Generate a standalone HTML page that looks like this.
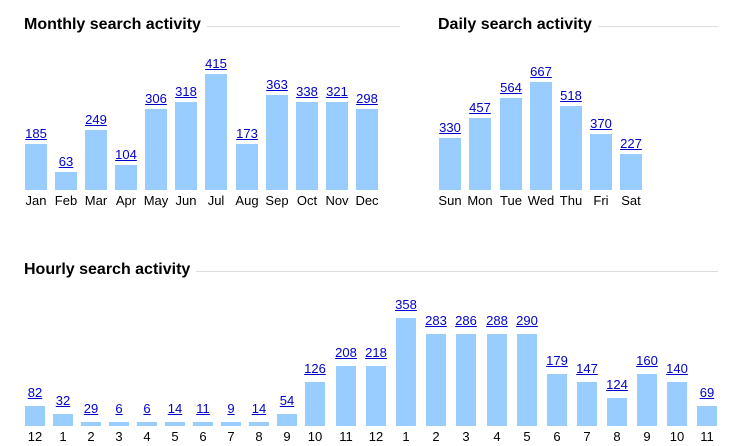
<!DOCTYPE html>
<html><head><meta charset="utf-8"><style>
body{margin:0;width:739px;height:446px;background:#fff;position:relative;overflow:hidden;font-family:"Liberation Sans",Arial,sans-serif;}
.t{position:absolute;font-weight:bold;font-size:16px;color:#000;background:#fff;padding-right:6px;line-height:18px}
.ln{position:absolute;height:1px;background:#ddd}
.b{position:absolute;background:#9cf}
.v,.x{position:absolute;font-size:13px;line-height:14px;transform:translateX(-50%);white-space:nowrap}
.v{color:#00c;text-decoration:underline}
.x{color:#000}
</style></head><body>
<div class="ln" style="left:24px;top:26px;width:376px"></div>
<div class="t" style="left:24px;top:16px">Monthly search activity</div>
<div class="ln" style="left:438px;top:26px;width:280px"></div>
<div class="t" style="left:438px;top:16px">Daily search activity</div>
<div class="ln" style="left:24px;top:271px;width:694px"></div>
<div class="t" style="left:24px;top:261px">Hourly search activity</div>

<div class="b" style="left:25px;top:144px;width:22px;height:46px"></div><div class="v" style="left:36px;top:127px">185</div><div class="x" style="left:36px;top:194px">Jan</div>
<div class="b" style="left:55px;top:172px;width:22px;height:18px"></div><div class="v" style="left:66px;top:155px">63</div><div class="x" style="left:66px;top:194px">Feb</div>
<div class="b" style="left:85px;top:130px;width:22px;height:60px"></div><div class="v" style="left:96px;top:113px">249</div><div class="x" style="left:96px;top:194px">Mar</div>
<div class="b" style="left:115px;top:165px;width:22px;height:25px"></div><div class="v" style="left:126px;top:148px">104</div><div class="x" style="left:126px;top:194px">Apr</div>
<div class="b" style="left:145px;top:109px;width:22px;height:81px"></div><div class="v" style="left:156px;top:92px">306</div><div class="x" style="left:156px;top:194px">May</div>
<div class="b" style="left:175px;top:102px;width:22px;height:88px"></div><div class="v" style="left:186px;top:85px">318</div><div class="x" style="left:186px;top:194px">Jun</div>
<div class="b" style="left:205px;top:74px;width:22px;height:116px"></div><div class="v" style="left:216px;top:57px">415</div><div class="x" style="left:216px;top:194px">Jul</div>
<div class="b" style="left:236px;top:144px;width:22px;height:46px"></div><div class="v" style="left:247px;top:127px">173</div><div class="x" style="left:247px;top:194px">Aug</div>
<div class="b" style="left:266px;top:95px;width:22px;height:95px"></div><div class="v" style="left:277px;top:78px">363</div><div class="x" style="left:277px;top:194px">Sep</div>
<div class="b" style="left:296px;top:102px;width:22px;height:88px"></div><div class="v" style="left:307px;top:85px">338</div><div class="x" style="left:307px;top:194px">Oct</div>
<div class="b" style="left:326px;top:102px;width:22px;height:88px"></div><div class="v" style="left:337px;top:85px">321</div><div class="x" style="left:337px;top:194px">Nov</div>
<div class="b" style="left:356px;top:109px;width:22px;height:81px"></div><div class="v" style="left:367px;top:92px">298</div><div class="x" style="left:367px;top:194px">Dec</div>

<div class="b" style="left:439px;top:138px;width:22px;height:52px"></div><div class="v" style="left:450px;top:121px">330</div><div class="x" style="left:450px;top:194px">Sun</div>
<div class="b" style="left:469px;top:118px;width:22px;height:72px"></div><div class="v" style="left:480px;top:101px">457</div><div class="x" style="left:480px;top:194px">Mon</div>
<div class="b" style="left:500px;top:98px;width:22px;height:92px"></div><div class="v" style="left:511px;top:81px">564</div><div class="x" style="left:511px;top:194px">Tue</div>
<div class="b" style="left:530px;top:82px;width:22px;height:108px"></div><div class="v" style="left:541px;top:65px">667</div><div class="x" style="left:541px;top:194px">Wed</div>
<div class="b" style="left:560px;top:106px;width:22px;height:84px"></div><div class="v" style="left:571px;top:89px">518</div><div class="x" style="left:571px;top:194px">Thu</div>
<div class="b" style="left:590px;top:134px;width:22px;height:56px"></div><div class="v" style="left:601px;top:117px">370</div><div class="x" style="left:601px;top:194px">Fri</div>
<div class="b" style="left:620px;top:154px;width:22px;height:36px"></div><div class="v" style="left:631px;top:137px">227</div><div class="x" style="left:631px;top:194px">Sat</div>

<div class="b" style="left:25px;top:406px;width:20px;height:20px"></div><div class="v" style="left:35px;top:386px">82</div><div class="x" style="left:35px;top:430px">12</div>
<div class="b" style="left:53px;top:414px;width:20px;height:12px"></div><div class="v" style="left:63px;top:394px">32</div><div class="x" style="left:63px;top:430px">1</div>
<div class="b" style="left:81px;top:422px;width:20px;height:4px"></div><div class="v" style="left:91px;top:402px">29</div><div class="x" style="left:91px;top:430px">2</div>
<div class="b" style="left:109px;top:422px;width:20px;height:4px"></div><div class="v" style="left:119px;top:402px">6</div><div class="x" style="left:119px;top:430px">3</div>
<div class="b" style="left:137px;top:422px;width:20px;height:4px"></div><div class="v" style="left:147px;top:402px">6</div><div class="x" style="left:147px;top:430px">4</div>
<div class="b" style="left:165px;top:422px;width:20px;height:4px"></div><div class="v" style="left:175px;top:402px">14</div><div class="x" style="left:175px;top:430px">5</div>
<div class="b" style="left:193px;top:422px;width:20px;height:4px"></div><div class="v" style="left:203px;top:402px">11</div><div class="x" style="left:203px;top:430px">6</div>
<div class="b" style="left:221px;top:422px;width:20px;height:4px"></div><div class="v" style="left:231px;top:402px">9</div><div class="x" style="left:231px;top:430px">7</div>
<div class="b" style="left:249px;top:422px;width:20px;height:4px"></div><div class="v" style="left:259px;top:402px">14</div><div class="x" style="left:259px;top:430px">8</div>
<div class="b" style="left:277px;top:414px;width:20px;height:12px"></div><div class="v" style="left:287px;top:394px">54</div><div class="x" style="left:287px;top:430px">9</div>
<div class="b" style="left:305px;top:382px;width:20px;height:44px"></div><div class="v" style="left:315px;top:362px">126</div><div class="x" style="left:315px;top:430px">10</div>
<div class="b" style="left:336px;top:366px;width:20px;height:60px"></div><div class="v" style="left:346px;top:346px">208</div><div class="x" style="left:346px;top:430px">11</div>
<div class="b" style="left:366px;top:366px;width:20px;height:60px"></div><div class="v" style="left:376px;top:346px">218</div><div class="x" style="left:376px;top:430px">12</div>
<div class="b" style="left:396px;top:318px;width:20px;height:108px"></div><div class="v" style="left:406px;top:298px">358</div><div class="x" style="left:406px;top:430px">1</div>
<div class="b" style="left:426px;top:334px;width:20px;height:92px"></div><div class="v" style="left:436px;top:314px">283</div><div class="x" style="left:436px;top:430px">2</div>
<div class="b" style="left:456px;top:334px;width:20px;height:92px"></div><div class="v" style="left:466px;top:314px">286</div><div class="x" style="left:466px;top:430px">3</div>
<div class="b" style="left:487px;top:334px;width:20px;height:92px"></div><div class="v" style="left:497px;top:314px">288</div><div class="x" style="left:497px;top:430px">4</div>
<div class="b" style="left:517px;top:334px;width:20px;height:92px"></div><div class="v" style="left:527px;top:314px">290</div><div class="x" style="left:527px;top:430px">5</div>
<div class="b" style="left:547px;top:374px;width:20px;height:52px"></div><div class="v" style="left:557px;top:354px">179</div><div class="x" style="left:557px;top:430px">6</div>
<div class="b" style="left:577px;top:382px;width:20px;height:44px"></div><div class="v" style="left:587px;top:362px">147</div><div class="x" style="left:587px;top:430px">7</div>
<div class="b" style="left:607px;top:398px;width:20px;height:28px"></div><div class="v" style="left:617px;top:378px">124</div><div class="x" style="left:617px;top:430px">8</div>
<div class="b" style="left:637px;top:374px;width:20px;height:52px"></div><div class="v" style="left:647px;top:354px">160</div><div class="x" style="left:647px;top:430px">9</div>
<div class="b" style="left:667px;top:382px;width:20px;height:44px"></div><div class="v" style="left:677px;top:362px">140</div><div class="x" style="left:677px;top:430px">10</div>
<div class="b" style="left:697px;top:406px;width:20px;height:20px"></div><div class="v" style="left:707px;top:386px">69</div><div class="x" style="left:707px;top:430px">11</div>
</body></html>
